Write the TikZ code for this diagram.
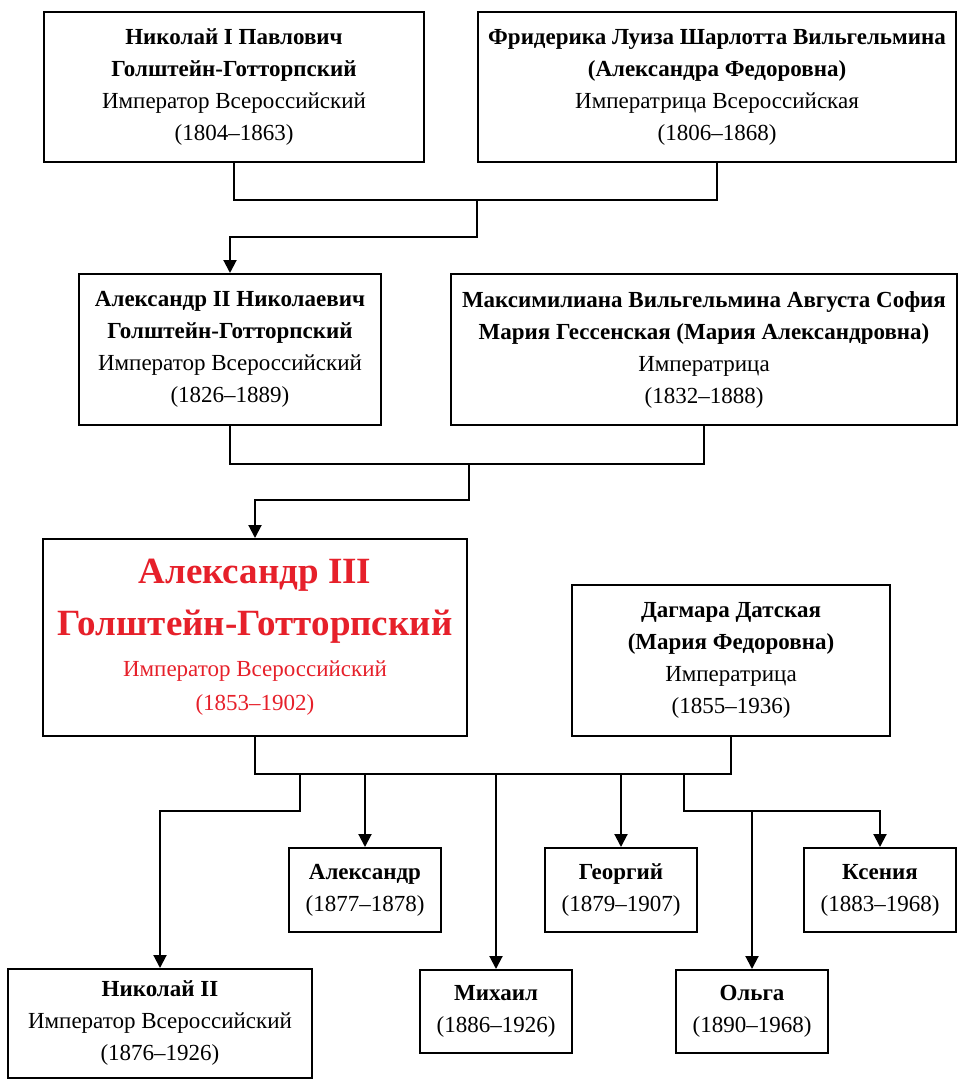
\documentclass[tikz,border=0pt]{standalone}
\usepackage{fontspec}
\setmainfont{Liberation Serif}
\usetikzlibrary{arrows.meta}
\definecolor{tsarred}{RGB}{230,32,42}
\tikzset{
  person/.style={draw, line width=2pt, align=center, inner sep=0pt, font=\fontsize{23}{32}\selectfont},
  link/.style={line width=2pt},
  arr/.style={link, -{Triangle[length=13pt,width=13pt]}},
}

\begin{document}
\begin{tikzpicture}[x=1pt,y=-1pt]
  \useasboundingbox (0,0) rectangle (958,1080);
  % First generation
  \node[person, minimum width=380pt, minimum height=150pt] (nik1) at (234,87) {\textbf{Николай I Павлович}\\\textbf{Голштейн-Готторпский}\\Император Всероссийский\\(1804–1863)};
  \node[person, minimum width=478pt, minimum height=150pt] (fri) at (717,87) {\textbf{Фридерика Луиза Шарлотта Вильгельмина}\\\textbf{(Александра Федоровна)}\\Императрица Всероссийская\\(1806–1868)};
  % Second generation
  \node[person, minimum width=302pt, minimum height=151pt] (alex2) at (230,349.5) {\textbf{Александр II Николаевич}\\\textbf{Голштейн-Готторпский}\\Император Всероссийский\\(1826–1889)};
  \node[person, minimum width=506pt, minimum height=151pt] (maxi) at (704,349.5) {\textbf{Максимилиана Вильгельмина Августа София}\\\textbf{Мария Гессенская (Мария Александровна)}\\Императрица\\(1832–1888)};
  % Third generation
  \node[person, minimum width=424pt, minimum height=197pt, text=tsarred] (alex3) at (255,637.5) {{\fontsize{37}{40}\selectfont\textbf{Александр III}}\\[18pt]{\fontsize{37}{40}\selectfont\textbf{Голштейн-Готторпский}}\\[9pt]Император Всероссийский\\[2pt](1853–1902)};
  \node[person, minimum width=318pt, minimum height=151pt] (dag) at (731,660.5) {\textbf{Дагмара Датская}\\\textbf{(Мария Федоровна)}\\Императрица\\(1855–1936)};
  % Children
  \node[person, minimum width=152pt, minimum height=84pt] (alex) at (365,890) {\textbf{Александр}\\(1877–1878)};
  \node[person, minimum width=152pt, minimum height=84pt] (geo) at (621,890) {\textbf{Георгий}\\(1879–1907)};
  \node[person, minimum width=152pt, minimum height=84pt] (kse) at (880,890) {\textbf{Ксения}\\(1883–1968)};
  \node[person, minimum width=304pt, minimum height=109pt] (nik2) at (160,1023.5) {\textbf{Николай II}\\Император Всероссийский\\(1876–1926)};
  \node[person, minimum width=152pt, minimum height=83pt] (mik) at (496,1011.5) {\textbf{Михаил}\\(1886–1926)};
  \node[person, minimum width=152pt, minimum height=83pt] (olga) at (752,1011.5) {\textbf{Ольга}\\(1890–1968)};
  % Links
  \coordinate (top1) at (477,200);
  \coordinate (mid1) at (477,237);
  \draw[link] (nik1.south) |- (top1) -| (fri.south);
  \draw[arr] (top1) -- (mid1) -| (alex2.north);
  \coordinate (top2) at (469,464);
  \coordinate (mid2) at (469,500);
  \draw[link] (alex2.south) |- (top2) -| (maxi.south);
  \draw[arr] (top2) -- (mid2) -| (alex3.north);
  \coordinate (bar) at (255,774);
  \draw[link] (alex3.south) |- (bar) -| (dag.south);
  \coordinate (nikbend) at (300,811);
  \coordinate (ksbend) at (684,811);
  \draw[arr] (nikbend |- bar) -- (nikbend) -| (nik2.north);
  \draw[arr] (alex.north |- bar) -- (alex);
  \draw[arr] (mik.north |- bar) -- (mik);
  \draw[arr] (geo.north |- bar) -- (geo);
  \draw[arr] (ksbend |- bar) -- (ksbend) -| (kse.north);
  \draw[arr] (olga.north |- ksbend) -- (olga);
\end{tikzpicture}
\end{document}
